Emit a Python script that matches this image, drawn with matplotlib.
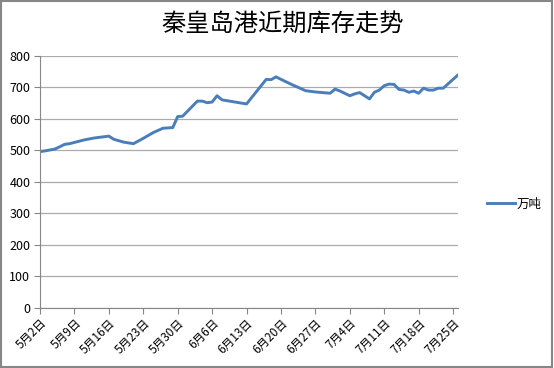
import matplotlib
matplotlib.use("Agg")
import matplotlib.pyplot as plt
import pandas as pd
from matplotlib.patches import Rectangle

plt.rcParams['font.family'] = ['Noto Sans CJK SC', 'DejaVu Sans']

dates = ["2013-05-02", "2013-05-03", "2013-05-05", "2013-05-06", "2013-05-07",
         "2013-05-08", "2013-05-11", "2013-05-13", "2013-05-14", "2013-05-16",
         "2013-05-17", "2013-05-19", "2013-05-21", "2013-05-23", "2013-05-25",
         "2013-05-27", "2013-05-29", "2013-05-30", "2013-05-31", "2013-06-03",
         "2013-06-04", "2013-06-05", "2013-06-06", "2013-06-07", "2013-06-08",
         "2013-06-13", "2013-06-17", "2013-06-18", "2013-06-19", "2013-06-20",
         "2013-06-22", "2013-06-25", "2013-06-27", "2013-06-30", "2013-07-01",
         "2013-07-02", "2013-07-04", "2013-07-05", "2013-07-06", "2013-07-08",
         "2013-07-09", "2013-07-10", "2013-07-11", "2013-07-12", "2013-07-13",
         "2013-07-14", "2013-07-15", "2013-07-16", "2013-07-17", "2013-07-18",
         "2013-07-19", "2013-07-20", "2013-07-21", "2013-07-22", "2013-07-23",
         "2013-07-26"]
values = [496, 498, 504, 511, 519,
          521, 533, 539, 541, 545,
          535, 526, 521, 538, 556,
          570, 572, 607, 608, 656,
          656, 651, 653, 673, 660,
          647, 725, 724, 733, 725,
          710, 689, 685, 681, 694,
          688, 673, 679, 683, 663,
          684, 691, 705, 710, 709,
          693, 691, 684, 688, 681,
          697, 691, 691, 697, 697,
          739]
series_name = "万吨"
title = "秦皇岛港近期库存走势"
yticks = [0, 100, 200, 300, 400, 500, 600, 700, 800]
tick_start = "2013-05-02"
axis_end = "2013-07-26"

x = pd.to_datetime(dates)

fig = plt.figure(figsize=(5.54, 3.68), dpi=100)
ax = fig.add_axes([40 / 554, 1 - 308 / 368, (458 - 40) / 554, (308 - 55.7) / 368])

line_color = "#4A7EBB"
ax.plot(x, values, color=line_color, lw=2.1, label=series_name, solid_joinstyle='round')

ax.set_ylim(0, 800)
ax.set_yticks(yticks)
ax.set_xlim(pd.Timestamp(tick_start), pd.Timestamp(axis_end))
ticks = pd.date_range(tick_start, axis_end, freq="7D")
ax.set_xticks(ticks)
ax.set_xticklabels([f"{d.month}月{d.day}日" for d in ticks], rotation=45,
                   ha='right', rotation_mode='anchor', fontsize=8.5)
for lab in ax.get_yticklabels():
    lab.set_fontsize(9)

grid_c = "#ABABAB"
ax.grid(axis='y', color=grid_c, lw=0.9)
ax.set_axisbelow(True)
for s in ['top', 'right']:
    ax.spines[s].set_visible(False)
ax.spines['left'].set_color("#868686")
ax.spines['bottom'].set_color("#868686")
ax.tick_params(axis='y', length=4, color="#868686", pad=3)
ax.tick_params(axis='x', length=4, color="#868686", pad=2)

fig.text(283 / 554, 1 - 24 / 368, title, ha='center', va='center', fontsize=17.5)

leg = ax.legend(loc='center left', bbox_to_anchor=(476 / 554, 1 - 204 / 368),
                bbox_transform=fig.transFigure, frameon=False, fontsize=9,
                handlelength=2.2, handletextpad=0.15)

fig.patches.append(Rectangle((0.002, 0.003), 0.995, 0.993, transform=fig.transFigure,
                             fill=False, edgecolor="#868686", lw=1.5))

fig.savefig("out.png", dpi=100)
